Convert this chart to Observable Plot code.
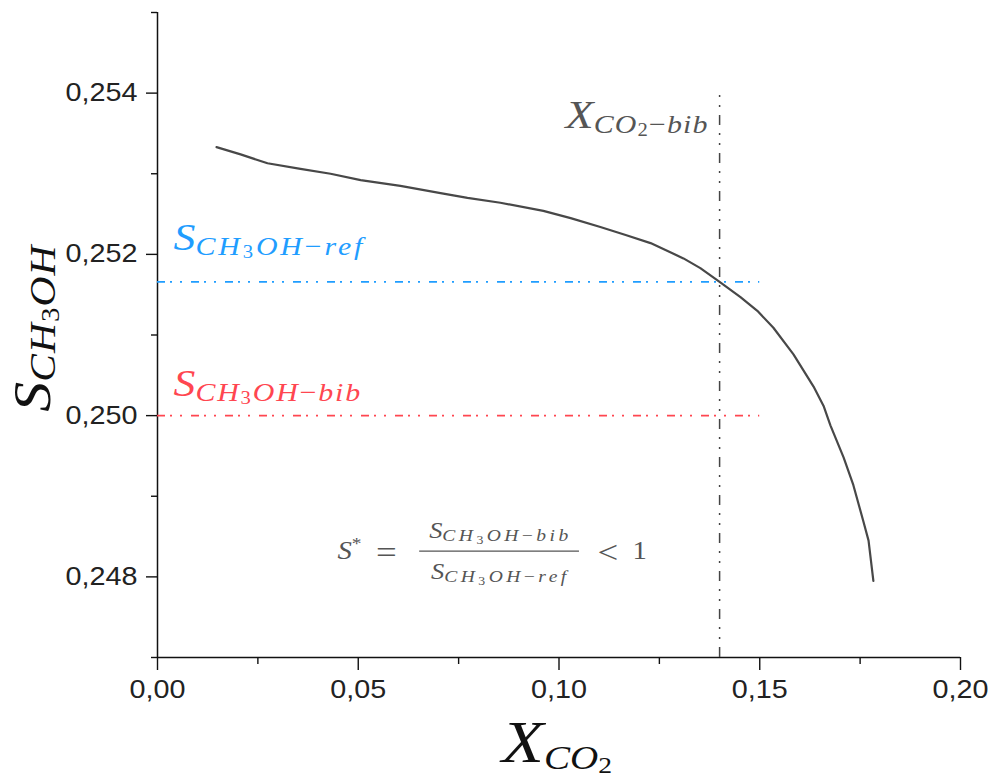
<!DOCTYPE html>
<html><head><meta charset="utf-8">
<script src="https://cdn.jsdelivr.net/npm/d3@7"></script>
<script src="https://cdn.jsdelivr.net/npm/@observablehq/plot@0.6"></script>
<style>
body{margin:0;background:#fff}
#chart svg{display:block}
#chart g[aria-label$="tick"]{stroke-width:1.4}
</style>
</head><body><div id="chart"></div>
<script>
// ---- data ----
const xTicks = [0, 0.05, 0.10, 0.15, 0.20];
const xMinor = [0.025, 0.075, 0.125, 0.175];
const yTicks = [0.248, 0.250, 0.252, 0.254];
const yMinor = [0.247, 0.249, 0.251, 0.253, 0.255];

const xCO2 = [0.0147, 0.0207, 0.0274, 0.0356, 0.0431, 0.0506, 0.0605, 0.0705, 0.0772, 0.0854,
              0.0961, 0.1029, 0.1103, 0.1166, 0.1228, 0.1310, 0.1352, 0.1400, 0.1452, 0.1494,
              0.1534, 0.1584, 0.1634, 0.1659, 0.1676, 0.1709, 0.1733, 0.1758, 0.1771, 0.1783];
const sCH3OH = [0.25333, 0.25324, 0.25313, 0.25306, 0.25300, 0.25292, 0.25285, 0.25276, 0.25270, 0.25264,
                0.25254, 0.25245, 0.25234, 0.25224, 0.25214, 0.25195, 0.25183, 0.25166, 0.25147, 0.25130,
                0.25109, 0.25076, 0.25036, 0.25012, 0.24988, 0.24948, 0.24914, 0.24869, 0.24845, 0.24795];

const sRef = [0.25166];      // S_CH3OH-ref
const sBib = [0.2500];       // S_CH3OH-bib
const xBib = [0.14];         // X_CO2-bib
const refExtent = [0, 0.15]; // x-range of the horizontal reference lines
const bibTop = [0.254];      // top of the vertical reference line
const labelX = [0.004];      // x where the S labels start
const formulaAt = [{x: 0.0854, y: 0.24822}];
const fracBar = [0.0653, 0.1051];

// rich-text contents: [text, level]  0 main, 1 subscript, 2 sub-subscript, 3 superscript, 4 relation symbol
const yTitle = [["S",0],["CH",1],["3",2],["OH",1]];
const xTitle = [["X",0],["CO",1],["2",2]];
const refLabel = [["S",0],["CH",1],["3",2],["OH−ref",1]];
const bibLabel = [["S",0],["CH",1],["3",2],["OH−bib",1]];
const xBibLabel = [["X",0],["CO",1],["2",2],["−bib",1]];
const fLeft = [["S",0],["*",3],["  ",0],["=",4]];
const fRight = [["<",4],["  1",0]];

const curve = xCO2.map((x, i) => ({x, y: sCH3OH[i]}));
const fmtX = d => d.toFixed(2).replace(".", ",");
const fmtY = d => d.toFixed(3).replace(".", ",");
const plain = parts => parts.map(p => p[0]).join("");

const BLUE = "#1f9dff", RED = "#ff4650", GRAY = "#555";
const serif = "Liberation Serif, Times New Roman, serif";
const tag = name => () => name;

const plot = Plot.plot({
  width: 992, height: 778,
  marginLeft: 157, marginRight: 32, marginTop: 12, marginBottom: 121,
  x: {domain: [0, 0.2]},
  y: {domain: [0.247, 0.255]},
  style: {fontFamily: "Liberation Sans, Arial, sans-serif", color: "#111", background: "#fff", overflow: "visible"},
  marks: [
    Plot.axisX(xMinor, {tickSize: 7, tickFormat: () => "", label: null}),
    Plot.axisY(yMinor, {tickSize: 6, tickFormat: () => "", label: null}),
    Plot.axisX(xTicks, {tickSize: 13, tickPadding: 10, tickFormat: fmtX, fontSize: 25, fill: "#222", label: null}),
    Plot.axisY(yTicks, {tickSize: 11, tickPadding: 9, tickFormat: fmtY, fontSize: 25, fill: "#222", label: null}),
    Plot.ruleX([0], {stroke: "#111", strokeWidth: 1.5}),
    Plot.ruleY([0.247], {stroke: "#111", strokeWidth: 1.5}),
    Plot.ruleY(sRef, {x1: refExtent[0], x2: refExtent[1], stroke: BLUE, strokeWidth: 1.7, strokeDasharray: "8,5,2,8,2,9"}),
    Plot.ruleY(sBib, {x1: refExtent[0], x2: refExtent[1], stroke: RED, strokeWidth: 1.7, strokeDasharray: "8,5,2,8,2,9"}),
    Plot.ruleX(xBib, {y1: 0.247, y2: bibTop[0], stroke: "#444", strokeWidth: 1.5, strokeDasharray: "10,8,2,8,2,8"}),
    Plot.line(curve, {x: "x", y: "y", stroke: "#484848", strokeWidth: 2.2, strokeLinejoin: "round"}),
    // labels
    Plot.text([0], {frameAnchor: "left", dx: -108, dy: -7, rotate: -90, text: () => plain(yTitle), textAnchor: "middle", lineAnchor: "bottom", fontFamily: serif, fill: "#111", ariaLabel: tag("ytitle")}),
    Plot.text([0], {frameAnchor: "bottom", dy: 104, dx: -2, text: () => plain(xTitle), textAnchor: "middle", lineAnchor: "bottom", fontFamily: serif, fill: "#111", ariaLabel: tag("xtitle")}),
    Plot.text(sRef, {x: () => labelX[0], y: d => d, dy: -32, text: () => plain(refLabel), textAnchor: "start", lineAnchor: "bottom", fontFamily: serif, fill: BLUE, ariaLabel: tag("reflabel")}),
    Plot.text(sBib, {x: () => labelX[0], y: d => d, dy: -20, text: () => plain(bibLabel), textAnchor: "start", lineAnchor: "bottom", fontFamily: serif, fill: RED, ariaLabel: tag("biblabel")}),
    Plot.text(xBib, {x: d => d, y: () => bibTop[0], dx: -11, dy: 35, text: () => plain(xBibLabel), textAnchor: "end", lineAnchor: "bottom", fontFamily: serif, fill: GRAY, ariaLabel: tag("xbiblabel")}),
    // formula
    Plot.text(formulaAt, {x: "x", y: "y", dx: -163, text: () => plain(fLeft), textAnchor: "start", lineAnchor: "bottom", fontFamily: serif, fill: GRAY, ariaLabel: tag("fleft")}),
    Plot.text(formulaAt, {x: "x", y: "y", dy: -21, text: () => plain(bibLabel), textAnchor: "middle", lineAnchor: "bottom", fontFamily: serif, fill: GRAY, ariaLabel: tag("fnum")}),
    Plot.text(formulaAt, {x: "x", y: "y", dy: 20, text: () => plain(refLabel), textAnchor: "middle", lineAnchor: "bottom", fontFamily: serif, fill: GRAY, ariaLabel: tag("fden")}),
    Plot.text(formulaAt, {x: "x", y: "y", dx: 97, text: () => plain(fRight), textAnchor: "start", lineAnchor: "bottom", fontFamily: serif, fill: GRAY, ariaLabel: tag("fright")}),
    Plot.ruleY(formulaAt, {x1: fracBar[0], x2: fracBar[1], y: "y", dy: -8, stroke: GRAY, strokeWidth: 1.4})
  ]
});
document.getElementById("chart").append(plot);

// ---- post-processing: rich text (subscripts) and horizontal stretch ----
function stretch(node, sx, sy) {
  const t = node.getAttribute("transform") || "";
  const x = node.getAttribute("x"), y = node.getAttribute("y");
  let pre = "";
  if (x != null && /^-?[\d.]+$/.test(x)) { pre += `translate(${x},0) `; node.removeAttribute("x"); }
  if (y != null && /^-?[\d.]+$/.test(y)) { pre += `translate(0,${y}) `; node.removeAttribute("y"); }
  node.setAttribute("transform", `${pre}${t} scale(${sx},${sy})`.trim());
}
function fillRich(node, parts, cfg) {
  const t = d3.select(node);
  t.selectAll("*").remove();
  t.text(null);
  let cur = 0;
  for (const [s, lvl] of parts) {
    const runs = s.match(/[A-Za-z]+|[^A-Za-z]+/g);
    for (const r of runs) {
      const ts = t.append("tspan").text(r)
        .attr("font-size", cfg.sizes[lvl])
        .attr("font-style", /[A-Za-z]/.test(r) ? "italic" : "normal");
      if ((lvl === 1 || lvl === 2) && cfg.ls) ts.attr("letter-spacing", cfg.ls);
      const dy = (cfg.shifts[lvl] || 0) - cur;
      if (dy) ts.attr("dy", dy);
      cur = cfg.shifts[lvl] || 0;
    }
  }
  t.attr("xml:space", "preserve").style("white-space", "pre");
  if (cfg.sx || cfg.sy) stretch(node, cfg.sx || 1, cfg.sy || 1);
}
const svg = d3.select(plot);
function rich(label, parts, cfg) {
  svg.selectAll(`[aria-label="${label}"]`).each(function() {
    const nodes = this.tagName.toLowerCase() === "text" ? [this] : Array.from(this.querySelectorAll("text"));
    nodes.forEach(n => fillRich(n, parts, cfg));
  });
}
rich("ytitle", yTitle, {sizes: [52, 36, 25], shifts: [0, 5, 9], ls: 1, sx: 1.15});
rich("xtitle", xTitle, {sizes: [60, 34, 24], shifts: [0, 7, 11], sx: 1.15});
rich("reflabel", refLabel, {sizes: [38, 26, 18], shifts: [0, 5, 8], ls: 2.5, sx: 1.15});
rich("biblabel", bibLabel, {sizes: [38, 26, 18], shifts: [0, 5, 8], ls: 1.6, sx: 1.15});
rich("xbiblabel", xBibLabel, {sizes: [40, 26, 18], shifts: [0, 5, 8], ls: 1, sx: 1.15});
rich("fleft", fLeft, {sizes: [25, 17, 12, 17, 32], shifts: [0, 4, 7, -10, 4], sx: 1.15});
rich("fnum", bibLabel, {sizes: [23, 17, 12], shifts: [0, 3, 6], ls: 3, sx: 1.15});
rich("fden", refLabel, {sizes: [23, 17, 12], shifts: [0, 3, 6], ls: 3, sx: 1.15});
rich("fright", fRight, {sizes: [25, 17, 12, 17, 32], shifts: [0, 0, 0, 0, 4], sx: 1.15});
svg.selectAll('g[aria-label="x-axis tick label"] text, g[aria-label="y-axis tick label"] text')
  .each(function() { stretch(this, 1.15, 1); });
</script>
</body></html>
